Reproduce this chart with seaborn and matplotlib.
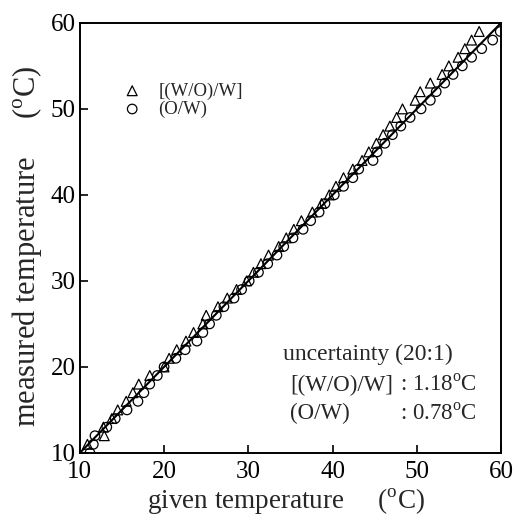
import pandas as pd
import seaborn as sns
import matplotlib.pyplot as plt

# -------------------------------
# Data
# -------------------------------
tri_measured = list(range(11, 60))
tri_given = [10.9, 12.9, 12.8, 13.8, 14.5, 15.5, 16.3, 17.0, 18.3, 20.0,
             20.6, 21.5, 22.6, 23.5, 24.6, 25.0, 26.4, 27.5, 28.6, 29.8,
             30.6, 31.5, 32.4, 33.6, 34.5, 35.4, 36.3, 37.6, 38.7, 39.6,
             40.4, 41.3, 42.4, 43.5, 44.3, 45.2, 46.0, 46.8, 47.6, 48.3,
             49.8, 50.4, 51.6, 53.0, 53.8, 54.9, 55.7, 56.5, 57.4]

circ_measured = list(range(10, 60))
circ_given = [11.2, 11.6, 11.8, 13.2, 14.2, 15.6, 16.9, 17.6, 18.3, 19.2,
              20.0, 21.4, 22.5, 23.9, 24.6, 25.4, 26.2, 27.1, 28.3, 29.2,
              30.1, 31.2, 32.3, 33.4, 34.2, 35.3, 36.5, 37.4, 38.4, 39.1,
              40.2, 41.3, 42.4, 43.1, 44.8, 45.3, 46.2, 47.1, 48.1, 49.2,
              50.5, 51.6, 52.3, 53.3, 54.3, 55.4, 56.5, 57.7, 59.0, 59.9]

ref_line = [10, 60]
ticks = [10, 20, 30, 40, 50, 60]

tri = pd.DataFrame({"given": tri_given, "measured": tri_measured})
circ = pd.DataFrame({"given": circ_given, "measured": circ_measured})
diag = pd.DataFrame({"given": ref_line, "measured": ref_line})

# -------------------------------
# Style
# -------------------------------
sns.set_style("ticks")
plt.rcParams["font.family"] = ["Liberation Serif", "DejaVu Serif"]
plt.rcParams["mathtext.fontset"] = "custom"
plt.rcParams["mathtext.rm"] = "Liberation Serif"

fig = plt.figure(figsize=(5.15, 5.2), dpi=100)
ax = fig.add_axes([0.155, 0.129, 0.818, 0.827])

sns.lineplot(data=diag, x="given", y="measured", color="black",
             linewidth=1.5, ax=ax)
sns.scatterplot(data=tri, x="given", y="measured", marker="^", s=50,
                facecolors="none", edgecolor="black", linewidth=0.9,
                label="[(W/O)/W]", ax=ax, zorder=3)
sns.scatterplot(data=circ, x="given", y="measured", marker="o", s=47,
                facecolors="none", edgecolor="black", linewidth=0.9,
                label="(O/W)", ax=ax, zorder=3)

ax.set_xlim(10, 60)
ax.set_ylim(10, 60)
ax.set_xticks(ticks)
ax.set_yticks(ticks)
ax.tick_params(direction="in", length=6, width=1.2, labelsize=18,
               colors="black")
ax.tick_params(axis="x", pad=6)
ax.tick_params(axis="y", pad=3)
for sp in ax.spines.values():
    sp.set_linewidth(1.4)
    sp.set_color("black")

ax.set_xlabel(r"given temperature     ($^{\rm o}$C)", fontsize=19.5)
ax.xaxis.set_label_coords(0.49, -0.078, transform=ax.transAxes)
ax.set_ylabel(r"measured temperature     ($^{\rm o}$C)", fontsize=22)
ax.yaxis.set_label_coords(-0.085, 0.48, transform=ax.transAxes)

leg = ax.legend(loc="upper left", bbox_to_anchor=(0.062, 0.879),
                frameon=False, fontsize=13.5, labelspacing=0.05,
                handletextpad=0.4, borderaxespad=0)

ax.text(0.482, 0.228, "uncertainty (20:1)", transform=ax.transAxes,
        fontsize=17, va="center")
ax.text(0.499, 0.158, "[(W/O)/W]", transform=ax.transAxes, fontsize=16.5,
        va="center")
ax.text(0.76, 0.158, r": 1.18$^{\rm o}$C", transform=ax.transAxes,
        fontsize=16.5, va="center")
ax.text(0.499, 0.091, "(O/W)", transform=ax.transAxes, fontsize=16.5,
        va="center")
ax.text(0.76, 0.091, r": 0.78$^{\rm o}$C", transform=ax.transAxes,
        fontsize=16.5, va="center")

fig.savefig("out.png", dpi=100)
